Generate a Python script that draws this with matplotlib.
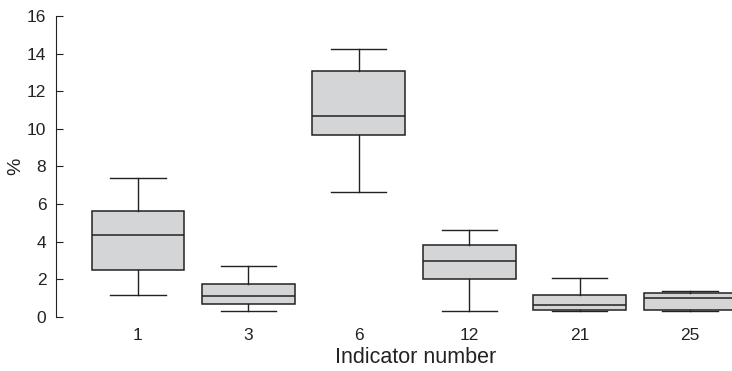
import matplotlib
matplotlib.use('Agg')
import matplotlib.pyplot as plt

plt.rcParams['font.family'] = ['Liberation Sans', 'DejaVu Sans']

# box-plot summaries per indicator
indicators = ['1', '3', '6', '12', '21', '25']
whislo = [1.19, 0.32, 6.66, 0.32, 0.32, 0.32]
q1 = [2.48, 0.69, 9.66, 2.00, 0.37, 0.37]
med = [4.34, 1.12, 10.70, 2.99, 0.62, 0.99]
q3 = [5.62, 1.77, 13.06, 3.83, 1.17, 1.26]
whishi = [7.37, 2.73, 14.23, 4.62, 2.09, 1.38]

stats = []
for i, lab in enumerate(indicators):
    stats.append(dict(label=lab, whislo=whislo[i], q1=q1[i], med=med[i],
                      q3=q3[i], whishi=whishi[i], fliers=[]))

line_col = '#222222'
fig = plt.figure(figsize=(7.32, 3.71), dpi=100)
ax = fig.add_axes([0.0765, 0.1456, 0.9235, 0.8113])

ax.bxp(stats, positions=range(1, 7), widths=0.84, patch_artist=True,
       showfliers=False,
       boxprops=dict(facecolor='#d4d5d7', edgecolor=line_col, linewidth=1.1),
       medianprops=dict(color=line_col, linewidth=1.1),
       whiskerprops=dict(color=line_col, linewidth=1.0),
       capprops=dict(color=line_col, linewidth=1.0),
       capwidths=0.5)

ax.set_xlim(0.258, 6.38)
ax.set_ylim(0, 16)
ax.set_yticks(range(0, 17, 2))
for s in ['top', 'right', 'bottom']:
    ax.spines[s].set_visible(False)
ax.spines['left'].set_color(line_col)
ax.tick_params(axis='y', direction='in', length=5, pad=7, labelsize=12.5,
               color=line_col, labelcolor='#222222')
ax.tick_params(axis='x', length=0, pad=8, labelsize=12.5, labelcolor='#222222')
ax.set_ylabel('%', fontsize=14, color='#222222', labelpad=2)
ax.set_xlabel('Indicator number', fontsize=15.5, color='#222222')
ax.xaxis.set_label_coords(0.5325, -0.1)

fig.savefig('out.png', dpi=100)
